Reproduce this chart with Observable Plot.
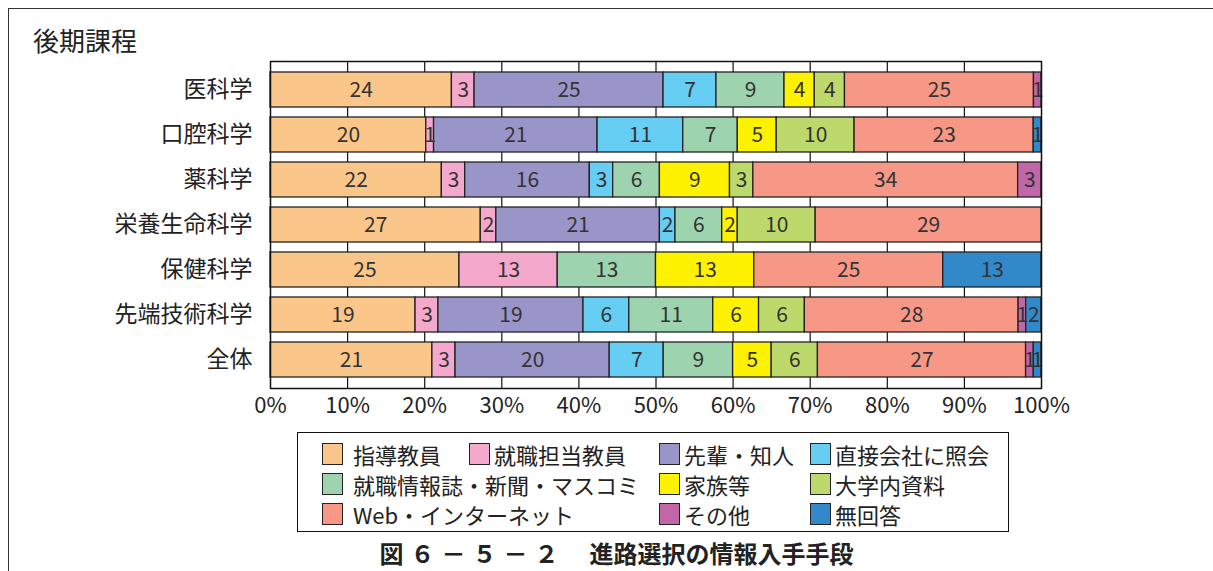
<!DOCTYPE html>
<html>
<head>
<meta charset="utf-8">
<script src="https://cdn.jsdelivr.net/npm/d3@7"></script>
<script src="https://cdn.jsdelivr.net/npm/@observablehq/plot@0.6"></script>
<style>
  html, body { margin: 0; padding: 0; background: #fff; }
  body { font-family: "Noto Sans CJK JP", "Noto Sans", sans-serif; color: #222; }
  #wrap { position: relative; width: 1213px; height: 571px; overflow: hidden; }
  #frame { position: absolute; left: 8px; top: 8px; width: 1220px; height: 600px;
           border-top: 1.5px solid #333; border-left: 1.5px solid #333; }
  #title { position: absolute; left: 33px; top: 24px; font-size: 26px; line-height: 32px; }
  #chart { position: absolute; left: 0; top: 0; }
  #legend { position: absolute; left: 297px; top: 432px; width: 712px; height: 100px;
            border: 1.5px solid #111; box-sizing: border-box; }
  .item { position: absolute; display: flex; align-items: center; font-size: 22px; line-height: 24px; white-space: nowrap; }
  .sw { width: 21px; height: 22px; border: 1.3px solid #222; box-sizing: border-box; }
  #caption { position: absolute; left: 0; width: 1233px; top: 537px; text-align: center;
             font-size: 24px; font-weight: bold; line-height: 32px; }
  #caption .pre { letter-spacing: 7px; }
</style>
</head>
<body>
<div id="wrap">
  <div id="frame"></div>
  <div id="title">後期課程</div>
  <div id="chart"></div>
  <div id="legend"></div>
  <div id="caption"><span class="pre">図６－５－２</span>　進路選択の情報入手手段</div>
</div>
<script>
const categories = ["医科学", "口腔科学", "薬科学", "栄養生命科学", "保健科学", "先端技術科学", "全体"];
const seriesNames = ["指導教員", "就職担当教員", "先輩・知人", "直接会社に照会", "就職情報誌・新聞・マスコミ", "家族等", "大学内資料", "Web・インターネット", "その他", "無回答"];
const seriesColors = ["#FAC68A", "#F4A8CC", "#9A95C8", "#66CDF3", "#9DD4AF", "#FFF200", "#BDD96B", "#F79786", "#C166A6", "#3189C9"];
// values per category, in series order
const v医科学 = [24, 3, 25, 7, 9, 4, 4, 25, 1, 0];
const v口腔科学 = [20, 1, 21, 11, 7, 5, 10, 23, 0, 1];
const v薬科学 = [22, 3, 16, 3, 6, 9, 3, 34, 3, 0];
const v栄養生命科学 = [27, 2, 21, 2, 6, 2, 10, 29, 0, 0];
const v保健科学 = [25, 13, 0, 0, 13, 13, 0, 25, 0, 13];
const v先端技術科学 = [19, 3, 19, 6, 11, 6, 6, 28, 1, 2];
const v全体 = [21, 3, 20, 7, 9, 5, 6, 27, 1, 1];
const xTicks = [0, 0.1, 0.2, 0.3, 0.4, 0.5, 0.6, 0.7, 0.8, 0.9, 1];

const valueRows = [v医科学, v口腔科学, v薬科学, v栄養生命科学, v保健科学, v先端技術科学, v全体];
const data = [];
categories.forEach((c, i) => {
  valueRows[i].forEach((v, j) => {
    if (v > 0) data.push({cat: c, series: seriesNames[j], value: v});
  });
});

const stackOpts = {offset: "normalize", x: "value", y: "cat"};

const plot = Plot.plot({
  width: 1213,
  height: 430,
  marginLeft: 270,
  marginRight: 172,
  marginTop: 61,
  marginBottom: 42,
  style: {fontFamily: '"Noto Sans CJK JP", sans-serif', fontSize: "22px", color: "#222", background: "transparent"},
  x: {domain: [0, 1], ticks: xTicks, tickFormat: d => Math.round(d * 100) + "%", tickSize: 0, tickPadding: 9, label: null},
  y: {domain: categories, padding: 0.22, tickSize: 0, tickPadding: 18, label: null},
  color: {domain: seriesNames, range: seriesColors},
  marks: [
    Plot.ruleX(xTicks.slice(1, -1), {stroke: "#111", strokeWidth: 1.2}),
    Plot.barX(data, Plot.stackX({...stackOpts, fill: "series", stroke: "#222", strokeWidth: 1.3, inset: 0})),
    Plot.text(data, Plot.stackX({...stackOpts, z: "series", text: d => String(d.value), fill: "#333", fontSize: 21})),
    Plot.frame({stroke: "#111", strokeWidth: 1.5})
  ]
});
plot.querySelectorAll('[aria-label="y-axis tick label"] text').forEach(t => t.setAttribute("font-size", "23px"));
document.getElementById("chart").appendChild(plot);

// legend: swatch left (px inside box), row, gap between swatch and text
const legendSlots = [[24, 0, 10], [171, 0, 4], [361, 0, 4], [512, 0, 4], [24, 1, 10], [361, 1, 4], [512, 1, 4], [24, 2, 10], [361, 2, 4], [512, 2, 4]];
const legend = document.getElementById("legend");
seriesNames.forEach((name, i) => {
  const [x, row, gap] = legendSlots[i];
  const item = document.createElement("div");
  item.className = "item";
  item.style.left = x + "px";
  item.style.top = (9 + row * 30) + "px";
  const sw = document.createElement("div");
  sw.className = "sw";
  sw.style.background = seriesColors[i];
  sw.style.marginRight = gap + "px";
  const label = document.createElement("span");
  label.textContent = name;
  item.appendChild(sw);
  item.appendChild(label);
  legend.appendChild(item);
});
</script>
</body>
</html>
